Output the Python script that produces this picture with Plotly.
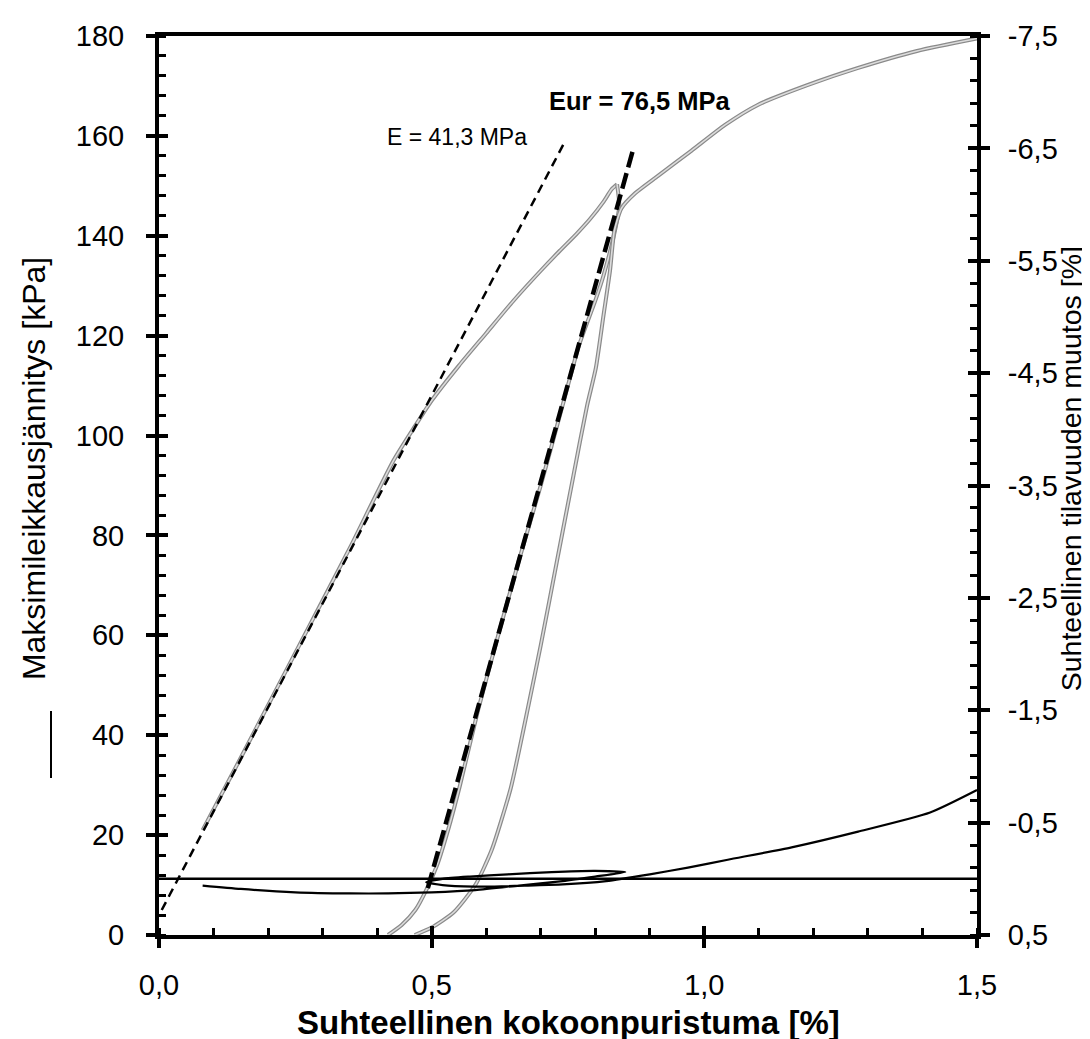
import plotly.graph_objects as go

# ---------------- data ----------------
# grey stress-strain curve (left axis, kPa)
load_strain = [0.08, 0.15, 0.25, 0.35, 0.43, 0.47, 0.50, 0.55, 0.60, 0.65, 0.70, 0.735, 0.765, 0.79, 0.815, 0.83, 0.84]
load_stress = [21, 35.5, 56.5, 77.5, 95, 102, 107, 114, 120.5, 127, 133, 137, 140.3, 143.3, 146.8, 149.3, 150.3]

unload_strain = [0.84, 0.844, 0.836, 0.815, 0.80, 0.77, 0.74, 0.70, 0.66, 0.622, 0.585, 0.552, 0.53, 0.51, 0.49, 0.47, 0.445, 0.42]
unload_stress = [150.3, 146, 141, 132, 127, 118, 106, 90, 75, 60, 45, 30, 21, 14, 9, 5, 2, 0]

reload_strain = [0.469, 0.50, 0.54, 0.58, 0.61, 0.645, 0.67, 0.70, 0.73, 0.76, 0.785, 0.801, 0.815, 0.827, 0.835,
                 0.848, 0.873, 0.915, 0.976, 1.038, 1.098, 1.19, 1.282, 1.39, 1.5]
reload_stress = [0, 1.5, 4.5, 10, 17, 29.4, 42, 58, 75, 92, 106, 113.5, 124, 133, 141,
                 145.5, 148.5, 152, 157, 162.2, 166.2, 170.2, 173.6, 177, 179.5]

# modulus lines
e_strain = [0.005, 0.745]
e_stress = [5, 159]
eur_strain = [0.493, 0.87]
eur_stress = [9.4, 157.5]

# black volumetric change curve (right axis, %)
vol_strain = [0.08, 0.15, 0.25, 0.35, 0.42, 0.50, 0.58, 0.66, 0.74, 0.80, 0.855,
              0.80, 0.72, 0.64, 0.57, 0.52, 0.49,
              0.53, 0.60, 0.67, 0.74, 0.82, 0.90, 0.97, 1.043, 1.16, 1.282, 1.414, 1.5]
vol_change = [0.06, 0.09, 0.12, 0.13, 0.13, 0.12, 0.10, 0.06, 0.02, -0.02, -0.06,
              -0.07, -0.06, -0.04, -0.02, 0.0, 0.03,
              0.06, 0.07, 0.06, 0.05, 0.02, -0.04, -0.10, -0.17, -0.28, -0.42, -0.59, -0.79]
zero_strain = [0.0, 1.5]
zero_change = [0.0, 0.0]

# ticks
x_major = [0.0, 0.5, 1.0, 1.5]
y_major = [0, 20, 40, 60, 80, 100, 120, 140, 160, 180]
y2_major = [-7.5, -6.5, -5.5, -4.5, -3.5, -2.5, -1.5, -0.5, 0.5]
y2_labels = ["-7,5", "-6,5", "-5,5", "-4,5", "-3,5", "-2,5", "-1,5", "-0,5", "0,5"]

FONT = "Liberation Sans, Arial, sans-serif"

fig = go.Figure()

# grey curve drawn as a dark outline plus light core
for xs, ys in [(load_strain, load_stress), (unload_strain, unload_stress), (reload_strain, reload_stress)]:
    fig.add_trace(go.Scatter(x=xs, y=ys, mode="lines", line=dict(color="#8a8a8a", width=4, shape="spline", smoothing=0.6),
                             showlegend=False, hoverinfo="skip"))
    fig.add_trace(go.Scatter(x=xs, y=ys, mode="lines", line=dict(color="#dcdcdc", width=1.6, shape="spline", smoothing=0.6),
                             showlegend=False, hoverinfo="skip"))

# volumetric (right axis)
fig.add_trace(go.Scatter(x=zero_strain, y=zero_change, yaxis="y2", mode="lines",
                         line=dict(color="black", width=2.5), showlegend=False))
fig.add_trace(go.Scatter(x=vol_strain, y=vol_change, yaxis="y2", mode="lines",
                         line=dict(color="black", width=2.2, shape="spline", smoothing=0.6), showlegend=False))

# modulus lines
fig.add_trace(go.Scatter(x=e_strain, y=e_stress, mode="lines",
                         line=dict(color="black", width=2.5, dash="9px,6px"), showlegend=False))
fig.add_trace(go.Scatter(x=eur_strain, y=eur_stress, mode="lines",
                         line=dict(color="black", width=4.5, dash="16px,6px"), showlegend=False))

tickfont = dict(family=FONT, size=29, color="black")

fig.update_layout(
    width=1090, height=1039,
    margin=dict(l=151, r=121, t=28, b=112),
    paper_bgcolor="white", plot_bgcolor="white",
    separators=", ",
    showlegend=False,
    xaxis=dict(range=[0, 1.5], showline=True, linewidth=4, linecolor="black", mirror=True,
               ticks="outside", ticklen=9, tickwidth=4, tickcolor="black",
               tickmode="array", tickvals=x_major, tickformat=".1f",
               minor=dict(ticks="inside", dtick=0.1, tick0=0, ticklen=7, tickwidth=3, tickcolor="black"),
               showgrid=False, zeroline=False, tickfont=tickfont, ticklabelstandoff=12),
    xaxis2=dict(range=[0, 1.5], overlaying="x", anchor="y", side="bottom", showline=False,
                ticks="inside", ticklen=9, tickwidth=4, tickcolor="black",
                tickmode="array", tickvals=x_major, showticklabels=False, showgrid=False, zeroline=False),
    yaxis=dict(range=[0, 180], showline=True, linewidth=4, linecolor="black",
               ticks="outside", ticklen=9, tickwidth=4, tickcolor="black",
               tickmode="array", tickvals=y_major,
               minor=dict(ticks="inside", dtick=4, tick0=0, ticklen=7, tickwidth=3, tickcolor="black"),
               showgrid=False, zeroline=False, tickfont=tickfont, ticklabelstandoff=16),
    yaxis3=dict(range=[0, 180], overlaying="y", anchor="x", side="left", showline=False,
                ticks="inside", ticklen=9, tickwidth=4, tickcolor="black",
                tickmode="array", tickvals=y_major, showticklabels=False, showgrid=False, zeroline=False),
    yaxis2=dict(range=[0.5, -7.5], overlaying="y", anchor="x", side="right", showline=True, linewidth=4,
                linecolor="black", ticks="outside", ticklen=9, tickwidth=4, tickcolor="black",
                tickmode="array", tickvals=y2_major, ticktext=y2_labels,
                minor=dict(ticks="inside", dtick=0.2, tick0=0.5, ticklen=7, tickwidth=3, tickcolor="black"),
                showgrid=False, zeroline=False, tickfont=tickfont, ticklabelstandoff=12),
    yaxis4=dict(range=[0.5, -7.5], overlaying="y", anchor="x", side="right", showline=False,
                ticks="inside", ticklen=9, tickwidth=4, tickcolor="black",
                tickmode="array", tickvals=y2_major, showticklabels=False, showgrid=False, zeroline=False),
)

# invisible traces to activate the overlay tick axes
fig.add_trace(go.Scatter(x=[None], y=[None], xaxis="x2", yaxis="y", showlegend=False))
fig.add_trace(go.Scatter(x=[None], y=[None], xaxis="x", yaxis="y3", showlegend=False))
fig.add_trace(go.Scatter(x=[None], y=[None], xaxis="x", yaxis="y4", showlegend=False))

annotations = [
    dict(text="E = 41,3 MPa", x=0.414, y=159.8, xref="x", yref="y", xanchor="left", yanchor="middle",
         showarrow=False, font=dict(family=FONT, size=23, color="black")),
    dict(text="<b>Eur = 76,5 MPa</b>", x=1.053, y=167, xref="x", yref="y", xanchor="right", yanchor="middle",
         showarrow=False, font=dict(family=FONT, size=25.5, color="black")),
    dict(text="<b>Suhteellinen kokoonpuristuma [%]</b>", x=0.5, y=-0.097, xref="paper", yref="paper",
         xanchor="center", yanchor="middle", showarrow=False, font=dict(family=FONT, size=33, color="black")),
    dict(text="Maksimileikkausjännitys [kPa]", x=-0.152, y=0.519, xref="paper", yref="paper",
         xanchor="center", yanchor="middle", textangle=-90, showarrow=False,
         font=dict(family=FONT, size=32, color="black")),
    dict(text="Suhteellinen tilavuuden muutos [%]", x=1.116, y=0.519, xref="paper", yref="paper",
         xanchor="center", yanchor="middle", textangle=-90, showarrow=False,
         font=dict(family=FONT, size=28.5, color="black")),
]
fig.update_layout(annotations=annotations)

# small line keys beside the axis titles
fig.add_shape(type="line", xref="paper", yref="paper",
              x0=(43 - 151) / 818, x1=(43 - 151) / 818, y0=(927 - 703) / 899, y1=(927 - 770) / 899,
              line=dict(color="black", width=2))
fig.add_shape(type="line", xref="paper", yref="paper",
              x0=(1084 - 151) / 818, x1=(1084 - 151) / 818, y0=(927 - 723) / 899, y1=(927 - 793) / 899,
              line=dict(color="#222222", width=3))

fig.write_html("out.html")
